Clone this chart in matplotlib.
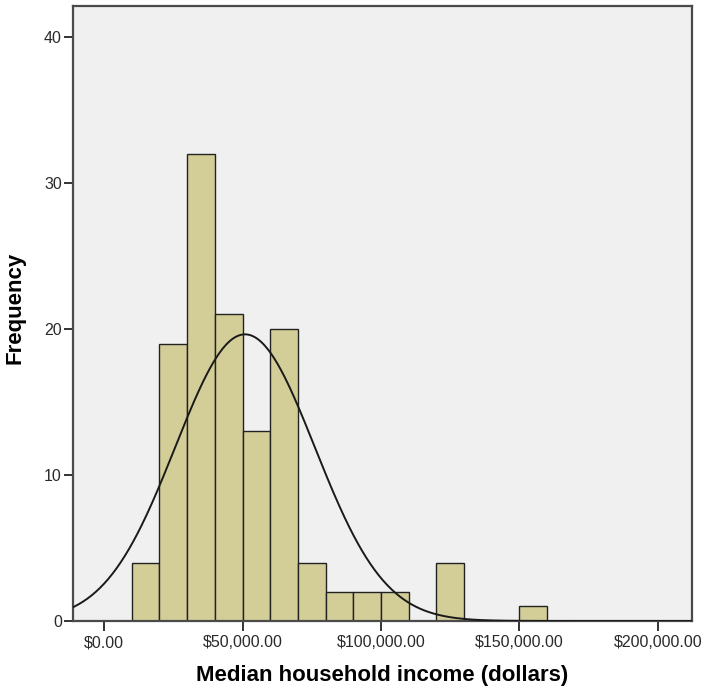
import numpy as np
import matplotlib
matplotlib.use("Agg")
import matplotlib.pyplot as plt

# Histogram data (bin edges in dollars, counts)
bin_edges = [10000, 20000, 30000, 40000, 50000, 60000, 70000, 80000,
             90000, 100000, 110000, 120000, 130000, 140000, 150000, 160000]
counts = [4, 19, 32, 21, 13, 20, 4, 2, 2, 2, 0, 4, 0, 0, 1]

# Normal curve parameters
curve_mean = 50900
curve_sd = 25200
n_total = sum(counts)
bin_width = 10000

x_ticks = [0, 50000, 100000, 150000, 200000]
x_tick_labels = ["$0.00", "$50,000.00", "$100,000.00", "$150,000.00", "$200,000.00"]
y_ticks = [0, 10, 20, 30, 40]

plt.rcParams['font.family'] = ['Liberation Sans', 'DejaVu Sans']

fig = plt.figure(figsize=(7.09, 6.90), dpi=100)
ax = fig.add_axes([0.103, 0.100, 0.873, 0.891])
ax.set_facecolor('#F0F0F0')

lefts = np.array(bin_edges[:-1])
widths = np.diff(bin_edges)
ax.bar(lefts, counts, width=widths, align='edge', color='#D3CE97',
       edgecolor='#222222', linewidth=1.0, zorder=2)

xs = np.linspace(-12000, 213000, 600)
ys = n_total * bin_width / (curve_sd * np.sqrt(2 * np.pi)) * np.exp(-0.5 * ((xs - curve_mean) / curve_sd) ** 2)
ax.plot(xs, ys, color='#1a1a1a', linewidth=1.4, zorder=3)

ax.set_xlim(-11200, 212300)
ax.set_ylim(0, 42.1)
ax.set_xticks(x_ticks)
ax.set_xticklabels(x_tick_labels, fontsize=11.5, color='#2a2a2a')
ax.set_yticks(y_ticks)
ax.set_yticklabels([str(v) for v in y_ticks], fontsize=11.5, color='#2a2a2a')
ax.tick_params(axis='x', direction='out', length=7.2, width=1.4, color='#333333', pad=3)
ax.tick_params(axis='y', direction='out', length=6.5, width=1.4, color='#333333', pad=1.5)

for s in ax.spines.values():
    s.set_color('#4a4a4a')
    s.set_linewidth(1.6)

ax.set_xlabel('Median household income (dollars)', fontsize=16, fontweight='bold', labelpad=11)
ax.set_ylabel('Frequency', fontsize=16, fontweight='bold')
ax.yaxis.set_label_coords(-0.0775, 0.509)

fig.savefig('out.png', dpi=100)
